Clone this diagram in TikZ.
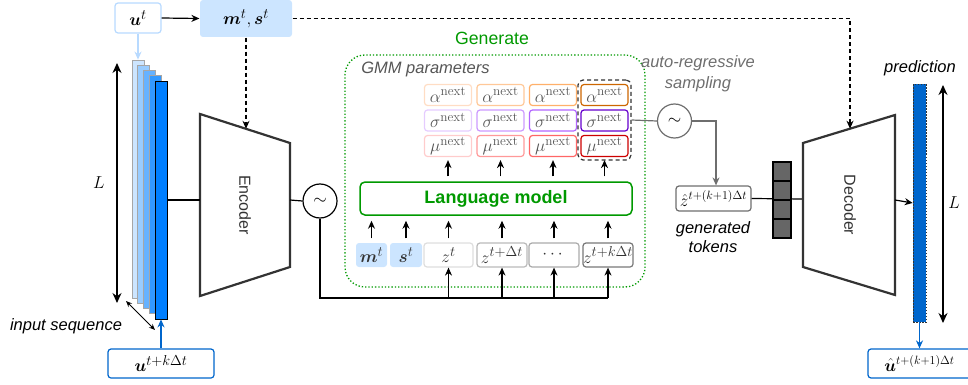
\documentclass[tikz,border=0pt]{standalone}
\usepackage{fontspec}
\setsansfont{Liberation Sans}
\usepackage{amsmath}
\usepackage{bm}
\usetikzlibrary{arrows.meta,calc}

\definecolor{lightblue}{HTML}{CCE5FF}
\definecolor{utborder}{HTML}{B8DAFF}
\definecolor{seqA}{HTML}{CCE5FF}
\definecolor{seqB}{HTML}{99CCFF}
\definecolor{seqC}{HTML}{66B2FF}
\definecolor{seqD}{HTML}{3399FF}
\definecolor{seqE}{HTML}{007FFF}
\definecolor{deepblue}{HTML}{0066CC}
\definecolor{gengreen}{HTML}{009900}
\definecolor{darkline}{HTML}{333333}
\definecolor{grayline}{HTML}{6E6E6E}
\definecolor{gmmtext}{HTML}{555555}
\definecolor{alA}{HTML}{FFDDC4}
\definecolor{alB}{HTML}{FFC898}
\definecolor{alC}{HTML}{FFB06A}
\definecolor{alD}{HTML}{CC6600}
\definecolor{sgA}{HTML}{E5CCFF}
\definecolor{sgB}{HTML}{CC99FF}
\definecolor{sgC}{HTML}{B266FF}
\definecolor{sgD}{HTML}{6600CC}
\definecolor{muA}{HTML}{FFCCCC}
\definecolor{muB}{HTML}{FF9999}
\definecolor{muC}{HTML}{FF6666}
\definecolor{muD}{HTML}{CC0000}
\definecolor{tokfill}{HTML}{666666}

\begin{document}
\begin{tikzpicture}[x=1pt,y=-1pt,
  line/.style={line width=1.2pt},
  arr/.style={line width=1.2pt,-{Stealth[length=8pt,width=7pt]}},
  biarr/.style={line width=1.2pt,{Stealth[length=10pt,width=9pt]}-{Stealth[length=10pt,width=9pt]}},
  dasharr/.style={line width=1.2pt,dash pattern=on 4pt off 3pt,-{Stealth[length=8pt,width=7pt]}},
  mathtxt/.style={font=\fontsize{19}{22}\selectfont},
  sans/.style={font=\sffamily\fontsize{16.5}{19}\selectfont},
  sansit/.style={font=\sffamily\itshape\fontsize{16.5}{19}\selectfont},
  rbox/.style={rounded corners=3pt,inner sep=0pt,line width=1.2pt},
  seqbar/.style={minimum width=12pt,minimum height=238pt,inner sep=0pt,line width=0.8pt},
  cell/.style={rbox,minimum width=47pt,minimum height=21pt,text=gmmtext,
    font=\fontsize{19}{22}\selectfont},
  tok/.style={rbox,minimum height=24pt,text=darkline,font=\fontsize{19}{22}\selectfont},
  trap/.style={draw=darkline,line width=2.2pt,line join=miter},
  mixer/.style={circle,draw,minimum size=34pt,inner sep=0pt,line width=1.2pt,
    font=\fontsize{19}{22}\selectfont},
  stackcell/.style={draw=black,fill=tokfill,minimum width=18pt,minimum height=19pt,
    inner sep=0pt,line width=1.2pt}
]
\useasboundingbox (0,0) rectangle (968,385);

% ---------- Generate block (background) ----------
\node[draw=gengreen,dotted,line width=1.3pt,rounded corners=20pt,
      minimum width=300pt,minimum height=232pt] (gen) at (495,171) {};
\node[sans,text=gengreen,font=\sffamily\fontsize{17.7}{20}\selectfont] (genlbl) at (492,38) {Generate};
\node[sansit,text=gmmtext] (gmmlbl) at (425.5,69) {GMM parameters};

% ---------- inputs at the top left ----------
\node[rbox,draw=utborder,fill=white,minimum width=46pt,minimum height=30pt,mathtxt] (ut) at (138,18) {$\bm{u}^{t}$};
\node[rbox,fill=lightblue,minimum width=92pt,minimum height=37pt,mathtxt] (ms) at (246,18.5) {$\bm{m}^{t}, \bm{s}^{t}$};
\draw[arr] (ut.east) -- (ms.west);

% ---------- input sequence stack ----------
\node[seqbar,draw=gray!70,fill=seqA] (s0) at (138,179) {};
\node[seqbar,draw=gray!70,fill=seqB] (s1) at (143.75,184.25) {};
\node[seqbar,draw=gray!70,fill=seqC] (s2) at (149.5,189.5) {};
\node[seqbar,draw=gray!70,fill=seqD] (s3) at (155.25,194.75) {};
\node[seqbar,draw=black,fill=seqE] (seq) at (161,200) {};
\draw[line,draw=utborder,-{Stealth[length=8pt,width=7pt]}] (ut.south) -- (s0.north);

\coordinate (Ltop) at (117,63);
\coordinate (Lbot) at (117,303);
\draw[biarr] (Ltop) -- (Lbot);
\node[mathtxt] (Llbl) at (99,183) {$L$};

\coordinate (isA) at (126,301);
\coordinate (isB) at (155,330);
\draw[line width=1pt,{Stealth[length=6pt,width=5pt]}-{Stealth[length=6pt,width=5pt]}] (isA) -- (isB);
\node[sansit] (islbl) at (66,326) {input sequence};

\node[rbox,draw=deepblue,fill=white,minimum width=106pt,minimum height=29pt,mathtxt] (uk) at (161,363.5) {$\bm{u}^{t+k\Delta t}$};
\draw[line,draw=deepblue,-{Stealth[length=8pt,width=7pt]}] (uk.north) -- (seq.south);

% ---------- encoder ----------
\draw[trap] (200,114) -- (290,143) -- (290,267) -- (200,296) -- cycle;
\coordinate (encL) at (200,200);
\coordinate (encR) at (290,200);
\coordinate (encT) at (246,128.8);
\node[sans,rotate=-90,text=darkline,font=\sffamily\fontsize{16}{19}\selectfont] (enclbl) at (245,205) {Encoder};
\draw[line] (seq.east) -- (encL);
\draw[dasharr] (ms.south) -- (encT);

\node[mixer] (mix1) at (320,201) {$\sim$};
\draw[line] (encR) -- (mix1.west);

% ---------- token row ----------
\node[tok,fill=lightblue,minimum width=31pt] (mt) at (371.5,255) {$\bm{m}^{t}$};
\node[tok,fill=lightblue,minimum width=32pt] (st) at (406,255) {$\bm{s}^{t}$};
\node[tok,draw=black!13,fill=white,minimum width=49pt] (zt) at (448.5,255) {$z^{t}$};
\node[tok,draw=black!27,fill=white,minimum width=50pt] (zd) at (502,255) {$z^{t+\Delta t}$};
\node[tok,draw=black!33,fill=white,minimum width=50pt] (zc) at (554,255) {$\cdots$};
\node[tok,draw=black!53,fill=white,minimum width=50pt] (zk) at (608,255) {$z^{t+k\Delta t}$};

\coordinate (bus) at (608,298);
\draw[line] (mix1.south) |- (bus);
\foreach \n in {zt,zd,zc,zk}
  \draw[arr] (\n |- bus) -- (\n.south);

% ---------- language model ----------
\node[draw=gengreen,line width=1.5pt,rounded corners=5pt,minimum width=272pt,minimum height=33pt,
      text=gengreen,font=\sffamily\bfseries\fontsize{18}{21}\selectfont] (lm) at (496,198.5) {Language model};
\foreach \n in {mt,st,zt,zd,zc,zk}
  \draw[arr,shorten <=4pt,shorten >=5pt] (\n.north) -- (\n.north |- lm.south);

% ---------- GMM parameter grid ----------
\node[cell,draw=alA] (a1) at (448,95) {$\alpha^{\mathrm{next}}$};
\node[cell,draw=alB] (a2) at (500.5,95) {$\alpha^{\mathrm{next}}$};
\node[cell,draw=alC] (a3) at (553,95) {$\alpha^{\mathrm{next}}$};
\node[cell,draw=alD] (a4) at (604.5,95) {$\alpha^{\mathrm{next}}$};
\node[cell,draw=sgA] (g1) at (448,120.5) {$\sigma^{\mathrm{next}}$};
\node[cell,draw=sgB] (g2) at (500.5,120.5) {$\sigma^{\mathrm{next}}$};
\node[cell,draw=sgC] (g3) at (553,120.5) {$\sigma^{\mathrm{next}}$};
\node[cell,draw=sgD] (g4) at (604.5,120.5) {$\sigma^{\mathrm{next}}$};
\node[cell,draw=muA] (u1) at (448,146) {$\mu^{\mathrm{next}}$};
\node[cell,draw=muB] (u2) at (500.5,146) {$\mu^{\mathrm{next}}$};
\node[cell,draw=muC] (u3) at (553,146) {$\mu^{\mathrm{next}}$};
\node[cell,draw=muD] (u4) at (604.5,146) {$\mu^{\mathrm{next}}$};
\foreach \n in {u1,u2,u3,u4}
  \draw[arr,shorten <=5pt,shorten >=3pt] (\n.south |- lm.north) -- (\n.south);

\node[draw=darkline,line width=1.2pt,dash pattern=on 4pt off 3pt,rounded corners=5pt,
      minimum width=53pt,minimum height=80pt] (lastcol) at (604.5,120) {};

% ---------- auto-regressive sampling ----------
\node[sansit,text=grayline,align=center] (arlbl) at (698,74) {auto-regressive\\[2pt]sampling};
\node[mixer,draw=grayline] (mix2) at (674.5,121) {$\sim$};
\node[rbox,draw=grayline,fill=white,minimum width=75pt,minimum height=25pt,
      font=\fontsize{17}{20}\selectfont] (zhat) at (713.5,198.5) {$\hat{z}^{t+(k+1)\Delta t}$};
\draw[line,draw=grayline] (lastcol.east) -- (mix2.west);
\draw[line,draw=grayline,-{Stealth[length=8pt,width=7pt]}] (mix2.east) -| ($(zhat.north)+(2.5,0)$);
\node[sansit,align=center] (gtlbl) at (713,237.5) {generated\\tokens};

% ---------- decoder ----------
\coordinate (decL) at (803,199);
\coordinate (decR) at (895,200);
\coordinate (decT) at (850,128.7);
\draw[line] (zhat.east) -- (decL);
\node[stackcell] (tk1) at (782,171.5) {};
\node[stackcell] (tk2) at (782,190.5) {};
\node[stackcell] (tk3) at (782,209.5) {};
\node[stackcell] (tk4) at (782,228.5) {};
\draw[trap] (803,143) -- (895,115) -- (895,295) -- (803,267) -- cycle;
\node[sans,rotate=-90,text=darkline,font=\sffamily\fontsize{16}{19}\selectfont] (declbl) at (850,205) {Decoder};
\draw[dasharr] (ms.east) -| (decT);

% ---------- prediction ----------
\node[fill=deepblue,draw=black!80,dash pattern=on 1.5pt off 1.5pt,line width=0.6pt,
      minimum width=13pt,minimum height=238pt,inner sep=0pt] (pred) at (919.5,203) {};
\draw[arr] (decR) -- (pred.west);
\node[sansit] (predlbl) at (920,68) {prediction};
\coordinate (Rtop) at (943,85);
\coordinate (Rbot) at (943,323);
\draw[biarr] (Rtop) -- (Rbot);
\node[mathtxt] (Rlbl) at (954,203) {$L$};
\node[rbox,draw=deepblue,fill=white,minimum width=103pt,minimum height=29pt,
      font=\fontsize{18.5}{21}\selectfont] (uhat) at (919.5,363.5) {$\hat{\bm{u}}^{t+(k+1)\Delta t}$};
\draw[line,draw=deepblue,-{Stealth[length=8pt,width=7pt]}] (pred.south) -- (uhat.north);
\end{tikzpicture}
\end{document}
